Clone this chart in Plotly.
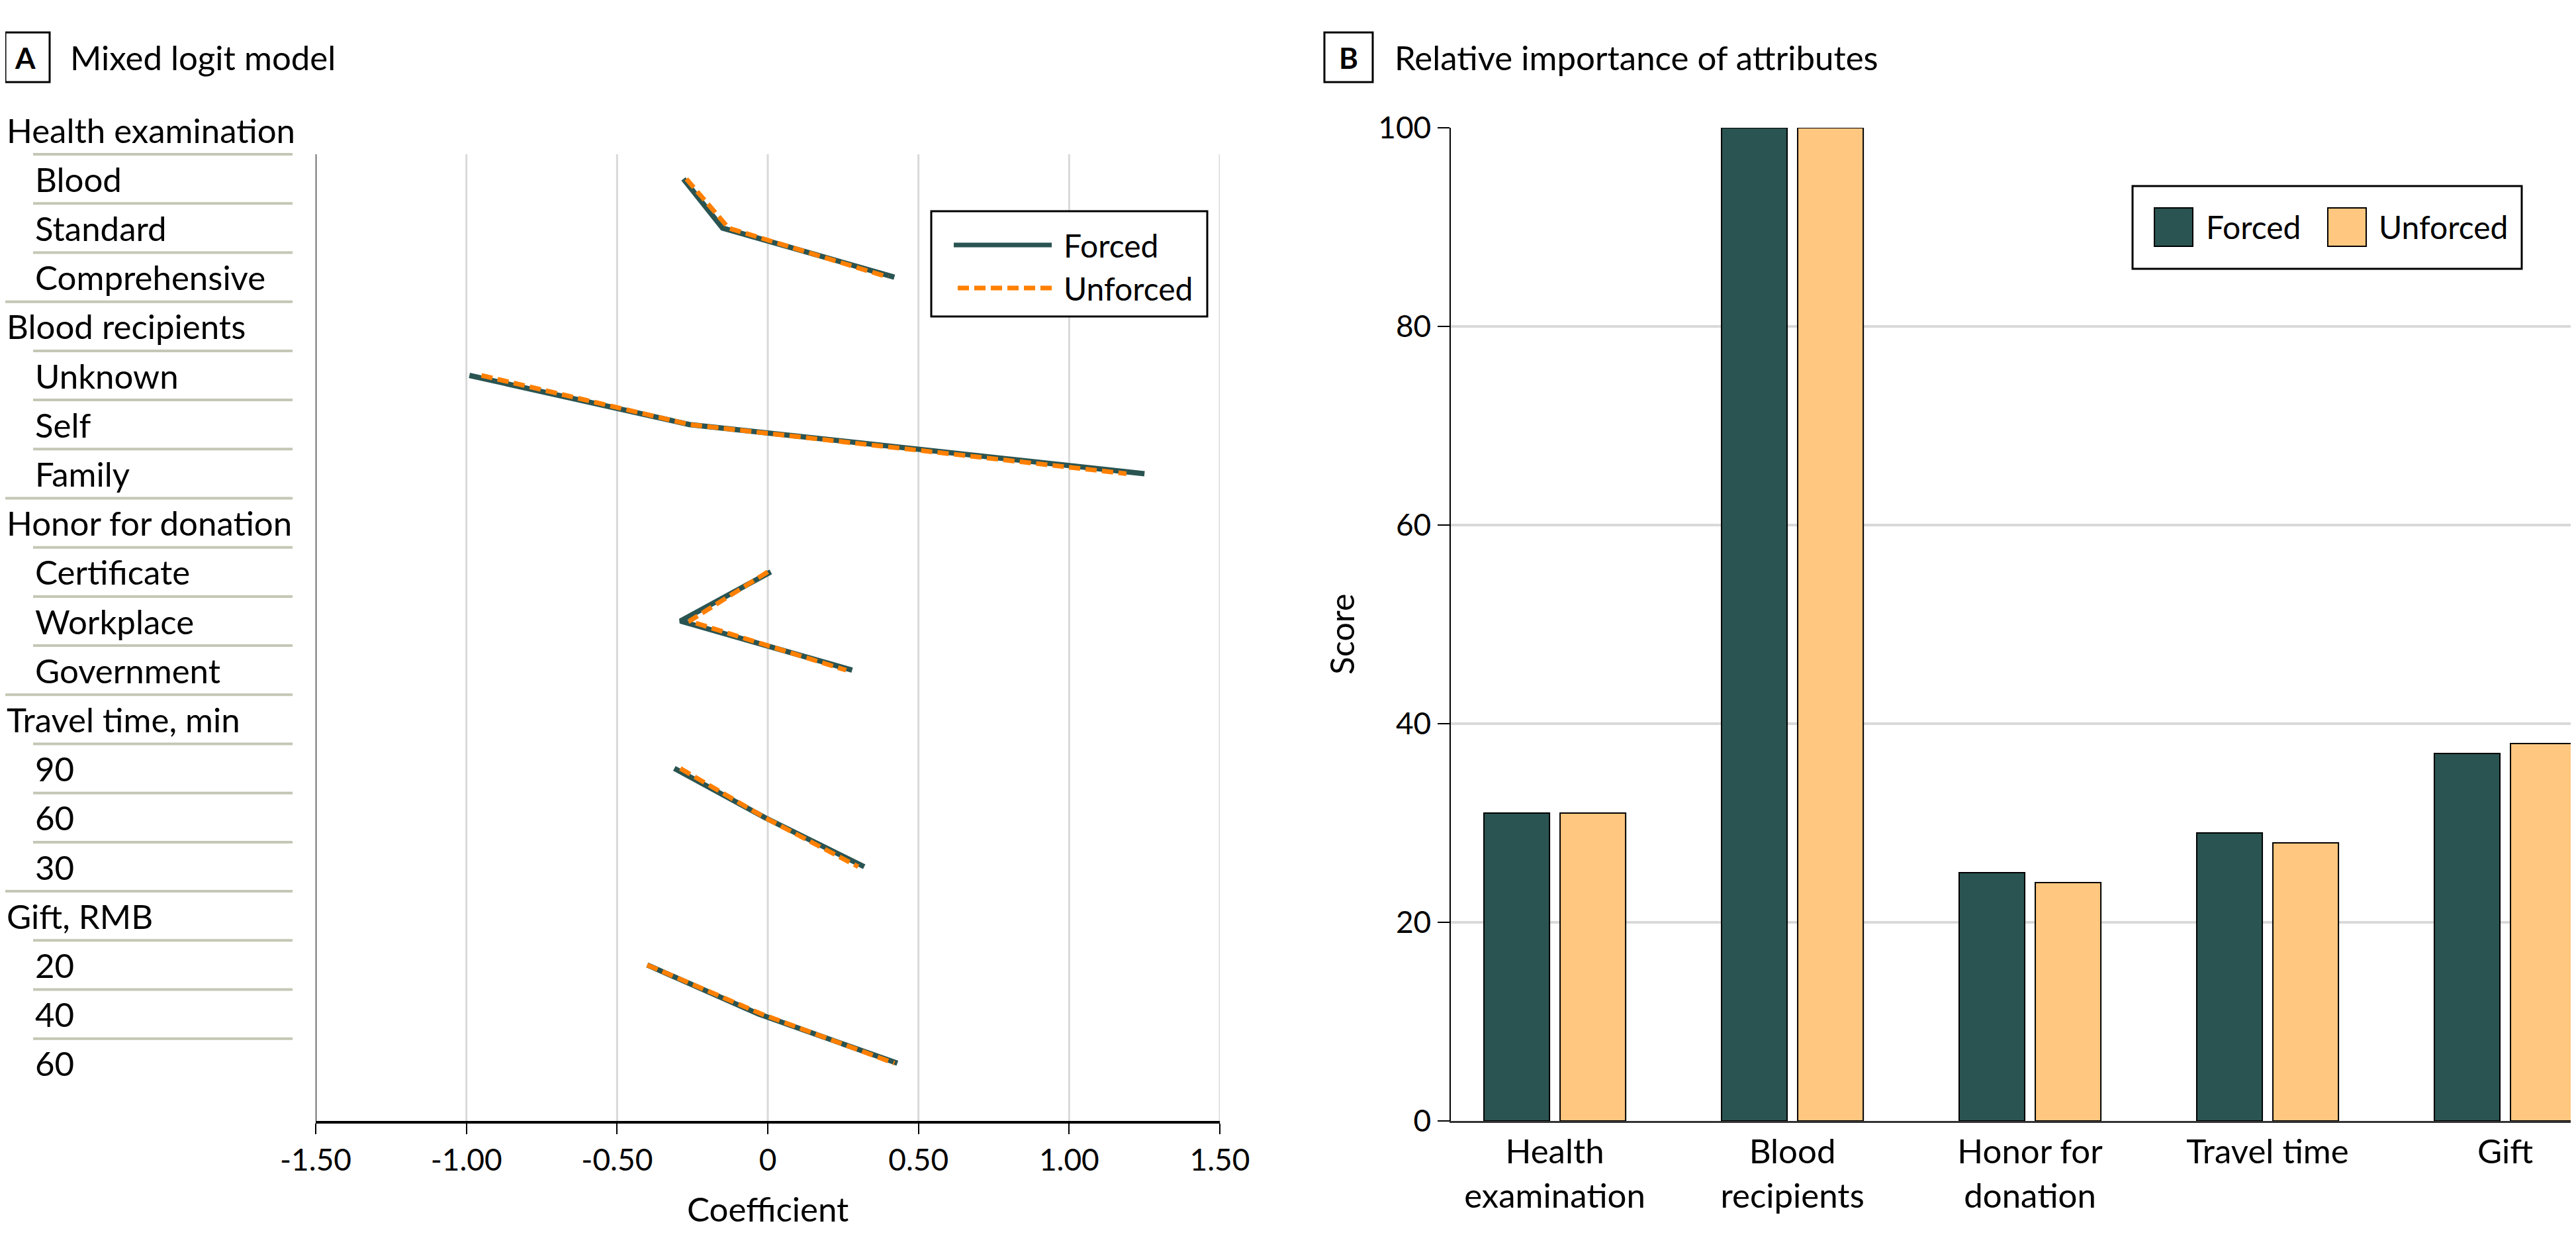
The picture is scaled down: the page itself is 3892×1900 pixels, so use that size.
import plotly.graph_objects as go

W, H = 3892, 1900
OFF = 8  # page body margin of the html page
FW, FH = W - OFF, H - OFF
FONT = "Lato"

# ---- data: panel A (mixed logit coefficients) ----
groups = ["Health examination", "Blood recipients", "Honor for donation",
          "Travel time, min", "Gift, RMB"]
levels = [["Blood", "Standard", "Comprehensive"],
          ["Unknown", "Self", "Family"],
          ["Certificate", "Workplace", "Government"],
          ["90", "60", "30"],
          ["20", "40", "60"]]
forced_coef = [[-0.28, -0.15, 0.42],
               [-0.99, -0.26, 1.25],
               [0.01, -0.29, 0.28],
               [-0.31, -0.01, 0.32],
               [-0.40, -0.03, 0.43]]
unforced_coef = [[-0.27, -0.13, 0.40],
                 [-0.95, -0.26, 1.19],
                 [0.00, -0.26, 0.26],
                 [-0.29, -0.01, 0.30],
                 [-0.40, -0.02, 0.42]]
coef_ticks = [-1.5, -1.0, -0.5, 0, 0.5, 1.0, 1.5]
coef_ticktext = ["-1.50", "-1.00", "-0.50", "0", "0.50", "1.00", "1.50"]

# ---- data: panel B (relative importance) ----
attributes = ["Health<br>examination", "Blood<br>recipients", "Honor for<br>donation",
              "Travel time", "Gift"]
forced_score = [31, 100, 25, 29, 37]
unforced_score = [31, 100, 24, 28, 38]
score_ticks = [0, 20, 40, 60, 80, 100]

DARK = "#2A5452"
ORANGE = "#FF8000"
LIGHT = "#FFC77F"
SEP = "#C4C7B5"
GRID = "#D9D9D9"


def px_x(p):
    # page pixel -> paper fraction
    return max(p - OFF, 0) / FW


def px_y(p):
    return 1 - max(p - OFF, 0) / FH


# build row layout: header row then one row per level
rows = []  # (label, is_header)
fx, fy, ux, uy = [], [], [], []
r = 0
for g, lv, fc, uc in zip(groups, levels, forced_coef, unforced_coef):
    rows.append((g, True))
    r += 1
    for name, a, b in zip(lv, fc, uc):
        rows.append((name, False))
        fx.append(a); fy.append(r)
        ux.append(b); uy.append(r)
        r += 1
    fx.append(None); fy.append(None)
    ux.append(None); uy.append(None)

y_bottom = 20.175

fig = go.Figure()
fig.add_trace(go.Scatter(x=fx, y=fy, mode="lines", name="Forced",
                         line=dict(color=DARK, width=8), connectgaps=False,
                         xaxis="x", yaxis="y", showlegend=False))
fig.add_trace(go.Scatter(x=ux, y=uy, mode="lines", name="Unforced",
                         line=dict(color=ORANGE, width=7, dash="17px,8px"),
                         connectgaps=False, xaxis="x", yaxis="y", showlegend=False))

fig.add_trace(go.Bar(x=attributes, y=forced_score, name="Forced",
                     marker=dict(color=DARK, line=dict(color="black", width=2)),
                     xaxis="x2", yaxis="y2", showlegend=False))
fig.add_trace(go.Bar(x=attributes, y=unforced_score, name="Unforced",
                     marker=dict(color=LIGHT, line=dict(color="black", width=2)),
                     xaxis="x2", yaxis="y2", showlegend=False))

shapes = []
annotations = []

# row labels and separator lines (panel A)
for i, (label, is_header) in enumerate(rows):
    annotations.append(dict(text=label, xref="paper", yref="y",
                            x=px_x(2 if is_header else 51), y=i,
                            xanchor="left", yanchor="middle", showarrow=False,
                            font=dict(size=51, color="black")))
    if i > 0:
        shapes.append(dict(type="line", xref="paper", yref="y",
                           x0=px_x(0 if is_header else 50), x1=px_x(442),
                           y0=i - 0.5, y1=i - 0.5,
                           line=dict(color=SEP, width=4)))

# vertical grid + y axis line for panel A
for t in coef_ticks:
    shapes.append(dict(type="line", xref="x", yref="y", x0=t, x1=t,
                       y0=0.5, y1=y_bottom, layer="below",
                       line=dict(color="black" if t == coef_ticks[0] else GRID,
                                 width=2 if t == coef_ticks[0] else 3)))

# panel labels
for (bx0, bx1, letter, tx, title) in [(1, 75, "A", 104, "Mixed logit model"),
                                      (2000, 2074, "B", 2105, "Relative importance of attributes")]:
    shapes.append(dict(type="rect", xref="paper", yref="paper",
                       x0=px_x(bx0 + 1), x1=px_x(bx1), y0=px_y(49), y1=px_y(124),
                       line=dict(color="black", width=3)))
    annotations.append(dict(text="<b>%s</b>" % letter, xref="paper", yref="paper",
                            x=px_x((bx0 + bx1) / 2), y=px_y(87), xanchor="center",
                            yanchor="middle", showarrow=False,
                            font=dict(size=44, color="black")))
    annotations.append(dict(text=title, xref="paper", yref="paper",
                            x=px_x(tx), y=px_y(87), xanchor="left", yanchor="middle",
                            showarrow=False, font=dict(size=51, color="black")))

# legend panel A
shapes.append(dict(type="rect", xref="paper", yref="paper",
                   x0=px_x(1407), x1=px_x(1824), y0=px_y(319), y1=px_y(478),
                   line=dict(color="black", width=3), fillcolor="white"))
shapes.append(dict(type="line", xref="paper", yref="paper",
                   x0=px_x(1441), x1=px_x(1589), y0=px_y(370), y1=px_y(370),
                   line=dict(color=DARK, width=7)))
shapes.append(dict(type="line", xref="paper", yref="paper",
                   x0=px_x(1447), x1=px_x(1589), y0=px_y(435), y1=px_y(435),
                   line=dict(color=ORANGE, width=7, dash="17px,8px")))
for name, yy in [("Forced", 370), ("Unforced", 435)]:
    annotations.append(dict(text=name, xref="paper", yref="paper", x=px_x(1605),
                            y=px_y(yy), xanchor="left", yanchor="middle",
                            showarrow=False, font=dict(size=48, color="black")))

# legend panel B
shapes.append(dict(type="rect", xref="paper", yref="paper",
                   x0=px_x(3222), x1=px_x(3810), y0=px_y(281), y1=px_y(406),
                   line=dict(color="black", width=3), fillcolor="white"))
for (sx, col, name, tx) in [(3255, DARK, "Forced", 3331), (3517, LIGHT, "Unforced", 3592)]:
    shapes.append(dict(type="rect", xref="paper", yref="paper",
                       x0=px_x(sx), x1=px_x(sx + 58), y0=px_y(314), y1=px_y(372),
                       line=dict(color="black", width=2), fillcolor=col))
    annotations.append(dict(text=name, xref="paper", yref="paper", x=px_x(tx),
                            y=px_y(343), xanchor="left", yanchor="middle",
                            showarrow=False, font=dict(size=48, color="black")))

# axis titles
annotations.append(dict(text="Coefficient", xref="x", yref="paper", x=0, y=px_y(1825),
                        xanchor="center", yanchor="middle", showarrow=False,
                        font=dict(size=51, color="black")))
annotations.append(dict(text="Score", xref="paper", yref="paper", x=px_x(2027),
                        y=px_y(958), xanchor="center", yanchor="middle", textangle=-90,
                        showarrow=False, font=dict(size=50, color="black")))

fig.update_layout(
    width=FW, height=FH,
    margin=dict(l=0, r=0, t=0, b=0, pad=0, autoexpand=False),
    paper_bgcolor="white", plot_bgcolor="white",
    font=dict(family=FONT, color="black"),
    barmode="group", bargap=0.359, bargroupgap=0.139,
    shapes=shapes, annotations=annotations,
    xaxis=dict(domain=[px_x(477), px_x(1843)], range=[-1.5, 1.5],
               tickvals=coef_ticks, ticktext=coef_ticktext,
               showgrid=False, zeroline=False, automargin=False,
               showline=True, linecolor="black", linewidth=4,
               ticks="outside", ticklen=16, tickwidth=2, tickcolor="black",
               tickfont=dict(size=46), anchor="y"),
    yaxis=dict(domain=[px_y(1693), px_y(196 - 37.1)], range=[y_bottom, -0.5],
               visible=False, automargin=False, anchor="x"),
    xaxis2=dict(domain=[px_x(2191.5), 1.0], range=[-0.439, 4.298],
                showgrid=False, zeroline=False, automargin=False,
                showline=True, linecolor="#333333", linewidth=3,
                ticks="", tickfont=dict(size=51), anchor="y2"),
    yaxis2=dict(domain=[px_y(1693), px_y(193)], range=[0, 100],
                tickvals=score_ticks, showgrid=True, gridcolor=GRID, gridwidth=4,
                zeroline=False, showline=True, linecolor="black", linewidth=2,
                ticks="outside", ticklen=18, tickwidth=2, tickcolor="black",
                tickfont=dict(size=46), automargin=False, anchor="x2"),
)

fig.write_html("out.html")
